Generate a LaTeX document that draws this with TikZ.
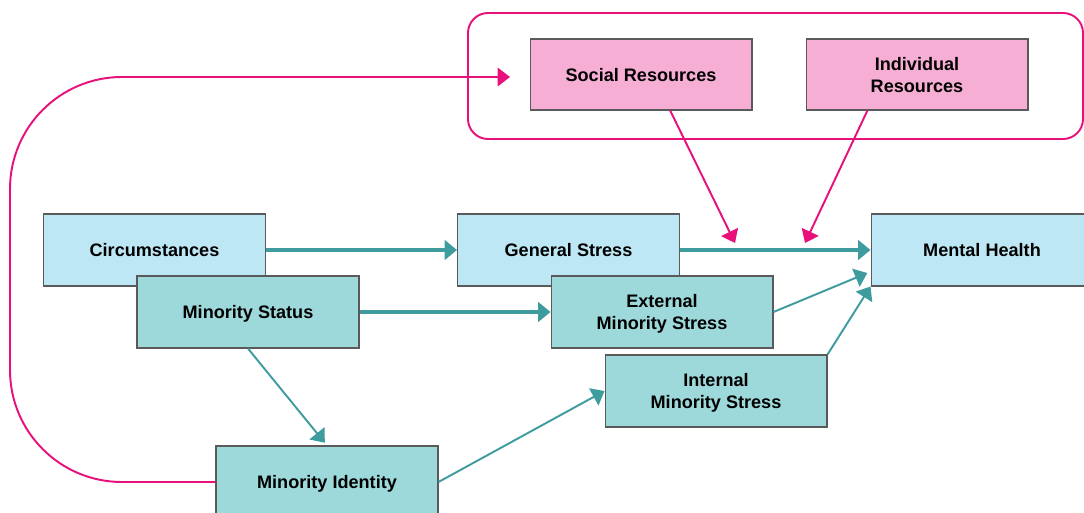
\documentclass[tikz,border=0pt]{standalone}
\usepackage{tikz}
\usetikzlibrary{arrows.meta}
\usepackage{fontspec}
\setmainfont{Liberation Sans}
\definecolor{skyfill}{HTML}{BEE7F5}
\definecolor{tealfill}{HTML}{9DD8DA}
\definecolor{rosefill}{HTML}{F7AED4}
\definecolor{roseline}{HTML}{E8107B}
\definecolor{tealline}{HTML}{3E9C9E}
\definecolor{edge}{HTML}{5A5A5A}

\begin{document}
\begin{tikzpicture}[x=0.02cm, y=0.02cm]
\tikzstyle{every node}+=[inner sep=0pt, font=\bfseries\fontsize{10.3}{12.5}\selectfont, align=center]
\tikzstyle{box}=[draw=edge, line width=0.6pt, minimum width=4.44cm, minimum height=1.44cm, text depth=-1.5pt]
\tikzstyle{sky}=[box, fill=skyfill]
\tikzstyle{sea}=[box, fill=tealfill]
\tikzstyle{rose}=[box, fill=rosefill, minimum height=1.42cm]
\tikzstyle{flow}=[draw=tealline, line width=1.8pt, -{Triangle[length=7pt,width=11pt]}]
\tikzstyle{thinflow}=[flow, line width=1.1pt]
\tikzstyle{buffer}=[draw=roseline, line width=1.1pt, -{Triangle[length=7pt,width=10.5pt]}]
\useasboundingbox (0,0) rectangle (1084,-513);
\clip (0,0) rectangle (1084,-513);
%resources
\draw [roseline, line width=1.1pt, rounded corners=0.4cm] (468,-13) rectangle (1083,-139);
\node [rose] (social) at (641,-74.5) {Social Resources};
\node [rose] (indiv) at (917,-74.5) {Individual\\Resources};
%stress
\node [sky] (circ) at (154.5,-250) {Circumstances};
\node [sky] (gen) at (568.5,-250) {General Stress};
\node [sky] (mental) at (982,-250) {Mental Health};
\node [sea] (status) at (248,-312) {Minority Status};
\node [sea] (ext) at (662,-312) {External\\Minority Stress};
\node [sea] (int) at (716,-391) {Internal\\Minority Stress};
\node [sea] (ident) at (327,-482) {Minority Identity};
\coordinate (loop) at (10,-77);
\coordinate (socin) at (510,-77);
\coordinate (modA) at (735,-243);
\coordinate (modB) at (805,-243);
\draw [flow] (circ) -- (gen);
\draw [flow] (gen) -- (mental);
\draw [flow] (status) -- (ext);
\draw [thinflow, shorten >=2pt] (status.south) -- (ident.north);
\draw [thinflow] (ident.east) -- (int.west);
\draw [thinflow, shorten >=2pt] (ext.east) -- (mental.191);
\draw [thinflow] (int.north east) -- (mental.south west);
\draw [buffer] (social.309) -- (modA);
\draw [buffer] (indiv.216) -- (modB);
\draw [buffer, rounded corners=2.24cm] (ident.west) -| (loop) -- (socin);
\end{tikzpicture}
\end{document}
